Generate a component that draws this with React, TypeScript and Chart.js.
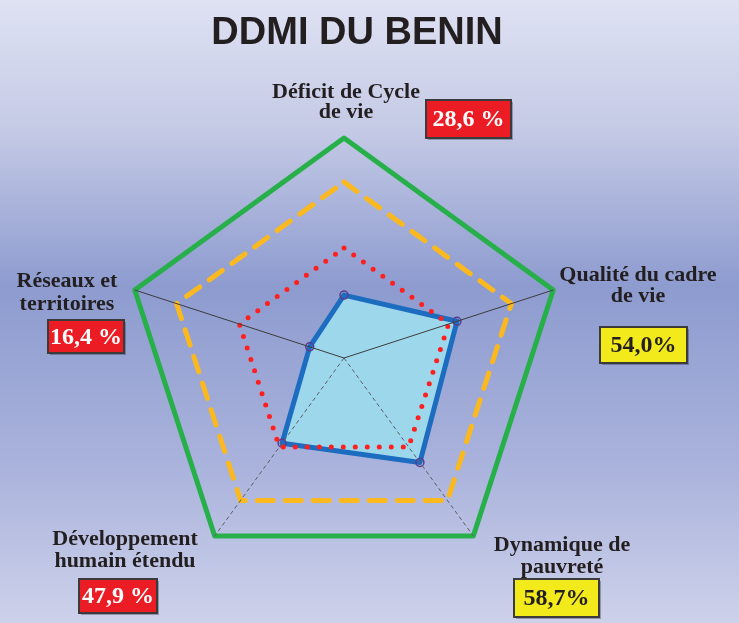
import React, { useEffect, useRef } from "react";
import { Chart, registerables } from "chart.js";

Chart.register(...registerables);

const titleText = "DDMI DU BENIN";
const categories: string[][] = [
  ["Déficit de Cycle", "de vie"],
  ["Qualité du cadre", "de vie"],
  ["Dynamique de", "pauvreté"],
  ["Développement", "humain étendu"],
  ["Réseaux et", "territoires"],
];
const values = [28.6, 54.0, 58.7, 47.9, 16.4];
const valueLabels = ["28,6 %", "54,0%", "58,7%", "47,9 %", "16,4 %"];
const badgeKinds = ["red", "yellow", "yellow", "red", "red"];
const outerRing = [100, 100, 100, 100, 100];
const middleRing = [80, 80, 80, 80, 80];
const innerRing = [50, 50, 50, 50, 50];

// layout for the annotation texts (positions only)
const labelLayout = [
  { cx: 346, by: 98, lh: 20, box: [426, 100, 85, 38] },
  { cx: 638, by: 281, lh: 21, box: [600, 327, 87, 36] },
  { cx: 562, by: 551, lh: 22, box: [514, 579, 85, 38] },
  { cx: 125, by: 545, lh: 22, box: [79, 579, 78, 34] },
  { cx: 67, by: 287, lh: 23, box: [48, 320, 76, 33] },
];

const W = 739;
const H = 623;

const decorPlugin = {
  id: "decor",
  beforeDraw(chart: any) {
    const ctx = chart.ctx as CanvasRenderingContext2D;
    ctx.save();
    const g = ctx.createLinearGradient(0, 0, 0, H);
    g.addColorStop(0, "#dfe2f3");
    g.addColorStop(0.2, "#c6cbe6");
    g.addColorStop(0.46, "#8d9bcf");
    g.addColorStop(0.75, "#aab3dc");
    g.addColorStop(1, "#cdd1ea");
    ctx.fillStyle = g;
    ctx.fillRect(0, 0, W, H);
    ctx.restore();
  },
  afterDraw(chart: any) {
    const ctx = chart.ctx as CanvasRenderingContext2D;
    ctx.save();
    ctx.fillStyle = "#231f20";
    ctx.font = "bold 38px 'Liberation Sans', Arial, sans-serif";
    ctx.textAlign = "center";
    ctx.textBaseline = "alphabetic";
    ctx.fillText(titleText, 357, 44);

    categories.forEach((lines, i) => {
      const L = labelLayout[i];
      ctx.fillStyle = "#231f20";
      ctx.font = "bold 22px 'Liberation Serif', 'Times New Roman', serif";
      ctx.textAlign = "center";
      lines.forEach((t, j) => ctx.fillText(t, L.cx, L.by + j * L.lh));

      const [bx, by, bw, bh] = L.box;
      ctx.fillStyle = "rgba(40,40,60,0.35)";
      ctx.fillRect(bx + 2, by + 2, bw, bh);
      ctx.fillStyle = badgeKinds[i] === "red" ? "#ec1c24" : "#f3ea1c";
      ctx.fillRect(bx, by, bw, bh);
      ctx.strokeStyle = "#3b3b3b";
      ctx.lineWidth = 2;
      ctx.strokeRect(bx, by, bw, bh);
      ctx.fillStyle = badgeKinds[i] === "red" ? "#ffffff" : "#231f20";
      ctx.font = "bold 24px 'Liberation Serif', 'Times New Roman', serif";
      ctx.textBaseline = "middle";
      ctx.fillText(valueLabels[i], bx + bw / 2, by + bh / 2 + 1);
      ctx.textBaseline = "alphabetic";
    });
    ctx.restore();
  },
};

export default function App() {
  const ref = useRef<HTMLCanvasElement | null>(null);

  useEffect(() => {
    document.body.style.margin = "0";
    const canvas = ref.current!;
    const chart = new Chart(canvas, {
      type: "radar",
      data: {
        labels: categories.map((c) => c.join(" ")),
        datasets: [
          {
            label: "Seuil 50",
            data: innerRing,
            borderColor: "#ff1f1f",
            borderWidth: 5,
            borderDash: [0, 12],
            borderCapStyle: "round",
            backgroundColor: "rgba(0,0,0,0)",
            fill: false,
            pointRadius: 0,
          },
          {
            label: "DDMI",
            data: values,
            borderColor: "#1c6cbf",
            borderWidth: 5,
            borderJoinStyle: "round",
            backgroundColor: "#9dd7ec",
            fill: true,
            pointRadius: 4,
            pointBorderWidth: 1.5,
            pointBorderColor: "#5b3d8f",
            pointBackgroundColor: "rgba(0,0,0,0)",
          },
          {
            label: "Seuil 80",
            data: middleRing,
            borderColor: "#fbb91f",
            borderWidth: 5,
            borderDash: [16, 12],
            borderCapStyle: "round",
            backgroundColor: "rgba(0,0,0,0)",
            fill: false,
            pointRadius: 0,
          },
          {
            label: "Max",
            data: outerRing,
            borderColor: "#27b04a",
            borderWidth: 5,
            borderJoinStyle: "round",
            backgroundColor: "rgba(0,0,0,0)",
            fill: false,
            pointRadius: 0,
          },
        ],
      },
      options: {
        responsive: false,
        animation: false,
        devicePixelRatio: 1,
        layout: { padding: { left: 124, right: 175, top: 138, bottom: 45 } },
        plugins: {
          legend: { display: false },
          tooltip: { enabled: false },
          title: { display: false },
        },
        elements: { line: { tension: 0 } },
        scales: {
          r: {
            min: 0,
            max: 100,
            grid: { display: false, z: 1 },
            ticks: { display: false, stepSize: 20 },
            pointLabels: { display: false },
            angleLines: {
              display: true,
              lineWidth: 1,
              color: (c: any) =>
                c.index === 0 ? "rgba(0,0,0,0)" : c.index === 2 || c.index === 3 ? "#5f5f66" : "#3c3c3c",
              borderDash: (c: any) => (c.index === 2 || c.index === 3 ? [4, 3] : []),
            },
          },
        },
      } as any,
      plugins: [decorPlugin],
    });
    return () => chart.destroy();
  }, []);

  return (
    <div style={{ width: W, height: H, position: "relative" }}>
      <canvas ref={ref} width={W} height={H} style={{ display: "block", width: W, height: H }} />
    </div>
  );
}
